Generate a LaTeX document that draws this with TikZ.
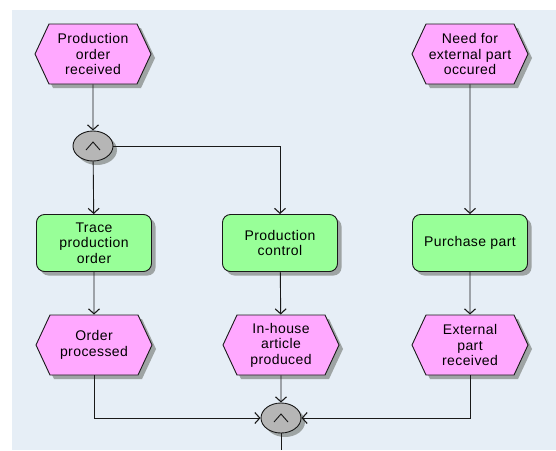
\documentclass[tikz,border=0pt]{standalone}
\usepackage{fontspec}
\setmainfont{Liberation Sans}[LetterSpace=3]
\usetikzlibrary{arrows.meta,shapes.symbols,shapes.geometric,shadows}

\definecolor{canvasbg}{RGB}{230,238,246}
\definecolor{eventpink}{RGB}{255,168,255}
\definecolor{funcgreen}{RGB}{152,255,152}
\definecolor{shadowgray}{RGB}{158,164,164}
\definecolor{opgray}{RGB}{182,182,182}
\definecolor{edgegray}{RGB}{25,25,25}

\tikzset{
  every node/.style={font=\fontsize{14}{15.5}\selectfont, align=center, inner sep=0pt},
  shadowed/.style={drop shadow={shadow xshift=4pt, shadow yshift=-4pt, fill=shadowgray, opacity=1}},
  eventbox/.style={shape=signal, signal to=east and west, signal pointer angle=130,
    minimum width=116pt, minimum height=60pt, fill=eventpink, draw=edgegray, line width=0.9pt, shadowed},
  funcbox/.style={rectangle, rounded corners=8pt, minimum width=115pt, minimum height=57pt,
    fill=funcgreen, draw=edgegray, line width=0.9pt, shadowed},
  opnode/.style={ellipse, minimum width=40pt, minimum height=30pt, fill=opgray,
    draw=edgegray, line width=0.9pt, shadowed},
  flow/.style={draw=edgegray, line width=0.9pt},
  flowarrow/.style={flow, -{Straight Barb[length=5pt,width=11pt,line width=1.1pt]}},
}

\begin{document}
\begin{tikzpicture}[x=1pt, y=-1pt]
  % canvas
  \useasboundingbox (0,0) rectangle (556,450);
  \fill[white] (0,0) rectangle (556,450);
  \fill[canvasbg] (12,10) rectangle (556,450);

  % events
  \node[eventbox] (e1) at (93,54)  {Production\\order\\received};
  \node[eventbox] (e2) at (470,54) {Need for\\external part\\occured};
  \node[eventbox] (e3) at (94,345) {Order\\processed};
  \node[eventbox] (e4) at (281,345) {In-house\\article\\produced};
  \node[eventbox] (e5) at (470,345) {External\\part\\received};

  % functions
  \node[funcbox] (f1) at (94,243)  {Trace\\production\\order};
  \node[funcbox] (f2) at (280,243) {Production\\control};
  \node[funcbox] (f3) at (470,243) {Purchase part};

  % AND operators
  \node[opnode] (a1) at (93,146) {};
  \node[opnode] (a2) at (281,418) {};
  \foreach \op in {a1,a2}{
    \draw[edgegray, line width=0.9pt]
      ([shift={(-7,4)}]\op.center) -- ([shift={(0,-4)}]\op.center) -- ([shift={(7,4)}]\op.center);
  }

  % free end of the outgoing flow
  \coordinate (out) at (281,450);

  % control flow
  \draw[flowarrow] (e1) -- (a1);
  \draw[flowarrow] (a1) -- (f1);
  \draw[flowarrow] (a1.east) -| (f2.north);
  \draw[flowarrow] (e2) -- (f3);
  \draw[flowarrow] (f1) -- (e3);
  \draw[flowarrow] (f2) -- (e4);
  \draw[flowarrow] (f3) -- (e5);
  \draw[flowarrow] (e3.south) |- (a2.west);
  \draw[flowarrow] (e5.south) |- (a2.east);
  \draw[flowarrow] (e4) -- (a2);
  \draw[flow] (a2) -- (out);
\end{tikzpicture}
\end{document}
